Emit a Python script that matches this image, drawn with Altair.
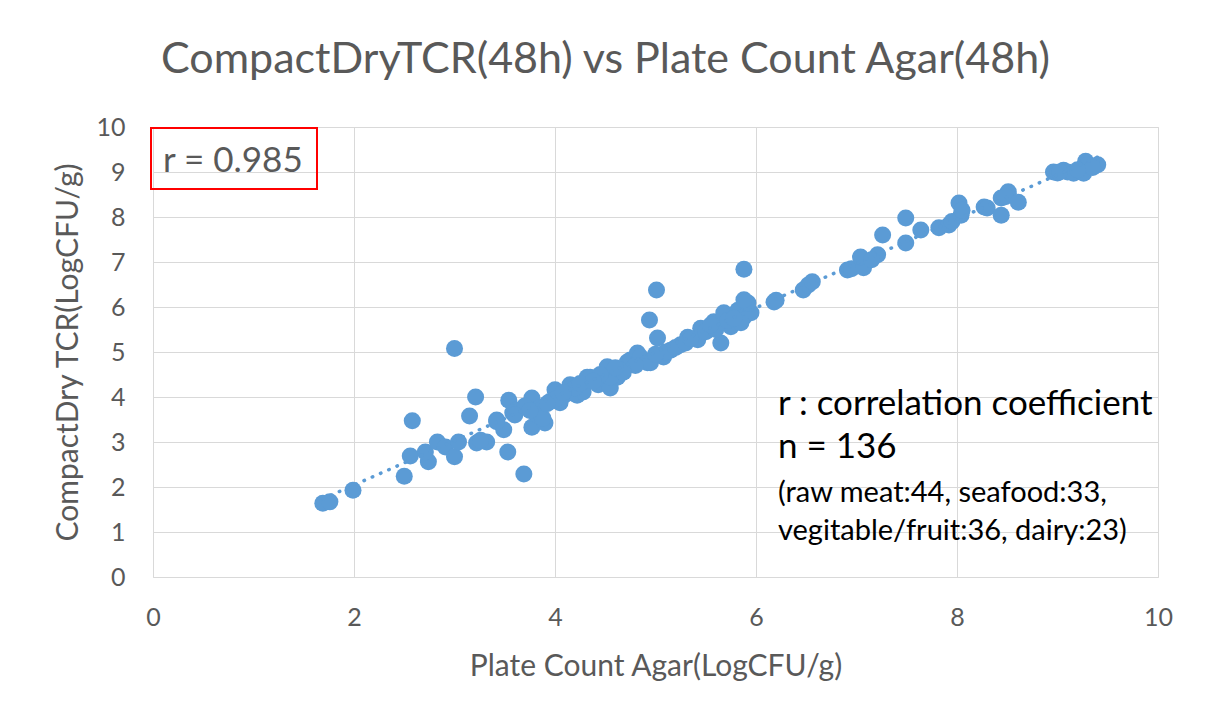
import altair as alt
import pandas as pd

# Plate Count Agar (x) vs CompactDry TCR (y), LogCFU/g
pca = [
    1.69, 1.76, 1.99, 2.50, 2.58, 2.56, 2.74, 2.71, 2.83, 2.91, 3.00, 3.00, 3.04, 3.15, 3.21,
    3.22, 3.32, 3.26, 3.42, 3.49, 3.42,
    3.53, 3.69, 3.54, 3.62, 3.77, 3.77, 3.90, 3.85, 3.58, 3.70, 3.82, 3.95, 4.00, 4.05, 4.10,
    4.15, 4.22, 4.32, 4.28, 4.43, 4.35, 4.20, 4.00, 3.88,
    4.52, 4.55, 4.62, 4.55, 4.72, 4.75, 4.82, 4.85, 4.92, 4.95, 5.02, 5.08, 5.01, 4.94, 5.15,
    5.25, 5.32, 5.42, 5.45, 5.58, 5.65, 5.68, 5.75, 5.82, 5.88, 5.95, 5.92, 5.88, 5.88, 4.65,
    4.80, 5.10, 5.20, 5.50, 5.60, 5.72, 5.85, 5.30, 4.45, 4.68,
    6.18, 6.20, 6.47, 6.52, 6.56, 6.91, 6.95, 7.07, 7.04, 7.21, 7.15, 7.26, 7.49, 7.49, 7.64,
    7.82, 7.92, 7.95,
    8.02, 8.04, 8.05, 8.27, 8.30, 8.44, 8.51, 8.44, 8.48, 8.61, 8.96, 9.00, 9.06, 9.10, 9.16,
    9.26, 9.28, 9.30, 9.40, 9.35, 9.20,
    3.60, 3.75, 3.92, 4.08, 4.25, 4.38, 4.60, 5.00, 5.35, 5.55, 5.78, 9.02,
]
tcr = [
    1.64, 1.67, 1.93, 2.24, 3.47, 2.69, 2.56, 2.78, 3.00, 2.89, 5.08, 2.67, 3.00, 3.58, 4.00,
    2.98, 3.00, 3.04, 3.49, 3.27, 3.45,
    2.78, 2.29, 3.93, 3.71, 3.98, 3.33, 3.42, 3.76, 3.65, 3.80, 3.60, 3.90, 4.16, 3.87, 4.05,
    4.27, 4.04, 4.44, 4.11, 4.27, 4.44, 4.20, 3.95, 3.53,
    4.67, 4.20, 4.44, 4.44, 4.78, 4.82, 4.98, 4.89, 4.76, 4.76, 5.31, 4.89, 6.38, 5.71, 5.04,
    5.16, 5.33, 5.27, 5.53, 5.67, 5.20, 5.87, 5.56, 5.93, 5.78, 5.87, 6.09, 6.84, 6.16, 4.60,
    4.70, 5.00, 5.10, 5.45, 5.50, 5.70, 5.65, 5.20, 4.50, 4.55,
    6.11, 6.15, 6.38, 6.49, 6.56, 6.82, 6.85, 6.87, 7.11, 7.16, 7.05, 7.60, 7.98, 7.42, 7.71,
    7.76, 7.82, 7.90,
    8.31, 8.04, 8.15, 8.22, 8.20, 8.04, 8.56, 8.42, 8.45, 8.33, 9.00, 8.98, 9.04, 9.00, 8.97,
    8.97, 9.24, 9.15, 9.16, 9.10, 9.05,
    3.60, 3.70, 3.85, 4.10, 4.30, 4.35, 4.65, 4.95, 5.30, 5.60, 5.75, 9.00,
]

TITLE = "CompactDryTCR(48h) vs Plate Count Agar(48h)"
X_TITLE = "Plate Count Agar(LogCFU/g)"
Y_TITLE = "CompactDry TCR(LogCFU/g)"
R_TEXT = "r = 0.985"
NOTES = [
    "r : correlation coefficient",
    "n = 136",
    "(raw meat:44, seafood:33,",
    "vegitable/fruit:36, dairy:23)",
]

df = pd.DataFrame({"pca": pca, "tcr": tcr})

FONT = "Lato"
GREY = "#595959"
BLUE = "#5B9BD5"

x_enc = alt.X(
    "pca:Q",
    scale=alt.Scale(domain=[0, 10], nice=False),
    axis=alt.Axis(
        values=[0, 2, 4, 6, 8, 10], format="d", grid=True, gridColor="#D9D9D9", gridWidth=1,
        domain=False, ticks=False, labelFlush=False, labelFont=FONT, labelFontSize=25,
        labelColor=GREY, labelPadding=28, title=X_TITLE, titleFont=FONT, titleFontSize=30,
        titleFontWeight="normal", titleColor=GREY, titlePadding=21,
    ),
)
y_enc = alt.Y(
    "tcr:Q",
    scale=alt.Scale(domain=[0, 10], nice=False),
    axis=alt.Axis(
        values=list(range(0, 11)), format="d", grid=True, gridColor="#D9D9D9", gridWidth=1,
        domain=False, ticks=False, labelFlush=False, labelFont=FONT, labelFontSize=25,
        labelColor=GREY, labelPadding=28, title=Y_TITLE, titleFont=FONT, titleFontSize=30,
        titleFontWeight="normal", titleColor=GREY, titlePadding=12,
    ),
)

base = alt.Chart(df)

points = base.mark_circle(size=290, color=BLUE, opacity=1).encode(x=x_enc, y=y_enc)

trend = (
    base.transform_regression("pca", "tcr")
    .mark_line(color=BLUE, strokeWidth=3.5, strokeDash=[0.5, 8.5], strokeCap="round")
    .encode(x="pca:Q", y="tcr:Q")
)

one = alt.Data(values=[{}])

r_box = alt.Chart(one).mark_rect(fill="transparent", stroke="#FF0000", strokeWidth=2).encode(
    x=alt.value(-2), x2=alt.value(164), y=alt.value(1), y2=alt.value(62)
)
r_text = alt.Chart(one).mark_text(
    text=R_TEXT, font=FONT, fontSize=35, color=GREY, align="left", baseline="alphabetic"
).encode(x=alt.value(10), y=alt.value(45))

note_layers = []
note_y = [288, 331, 375, 413]
note_size = [35, 35, 29, 29]
for t, yy, fs in zip(NOTES, note_y, note_size):
    note_layers.append(
        alt.Chart(one).mark_text(
            text=t, font=FONT, fontSize=fs, color="#000000", align="left", baseline="alphabetic"
        ).encode(x=alt.value(625), y=alt.value(yy))
    )

chart = (
    alt.layer(points, trend, r_box, r_text, *note_layers)
    .properties(
        width=1005,
        height=450,
        padding={"left": 145, "top": 119, "right": 40, "bottom": 130},
        autosize=alt.AutoSizeParams(type="none"),
        title=alt.TitleParams(
            TITLE, font=FONT, fontSize=43, fontWeight="normal", color=GREY,
            anchor="middle", dx=-50, offset=33,
        ),
    )
    .configure_view(stroke=None)
    .configure(background="white")
)

chart.save("out.html", embed_options={"renderer": "svg", "actions": False})
